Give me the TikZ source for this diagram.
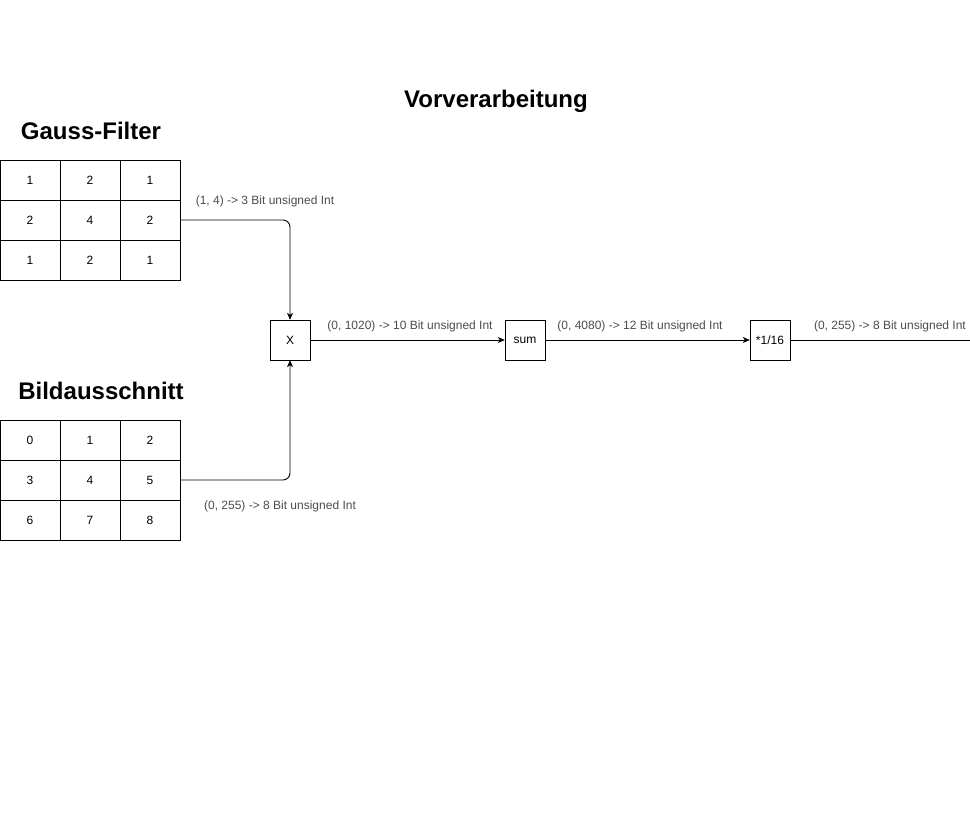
\documentclass[tikz,border=0pt]{standalone}
\usepackage{fontspec}
\setmainfont{Liberation Sans}
\usetikzlibrary{arrows.meta}

\tikzset{
	cell/.style={draw, minimum width=60pt, minimum height=40pt, inner sep=0pt, font=\fontsize{12}{14}\selectfont},
	op/.style={draw, minimum width=40pt, minimum height=40pt, inner sep=0pt, font=\fontsize{12}{14}\selectfont},
	title/.style={font=\fontsize{24}{28}\selectfont\bfseries},
	lbl/.style={text=black!70, font=\fontsize{12}{14}\selectfont, inner sep=1pt},
	wire/.style={line width=0.9pt, rounded corners=7pt},
	arr/.style={wire, -{Stealth[length=7pt,width=6pt,inset=2pt]}}
}

\begin{document}
\begin{tikzpicture}[x=1pt, y=-1pt]
	\useasboundingbox (0,0) rectangle (970,821);
	\node[title] (vor) at (496,101) {Vorverarbeitung};
	\node[title] (gtitle) at (91,131) {Gauss-Filter};
	\node[title] (btitle) at (101,391) {Bildausschnitt};
	% Gauss-Filter Kernel
	\foreach \r/\a/\b/\c in {1/1/2/1, 2/2/4/2, 3/1/2/1} {
		\node[cell] (g-\r-1) at (30, 140+40*\r) {\a};
		\node[cell] (g-\r-2) at (90, 140+40*\r) {\b};
		\node[cell] (g-\r-3) at (150, 140+40*\r) {\c};
		}
	% Bildausschnitt
	\foreach \r in {1,2,3} {
		\foreach \c in {1,2,3} {
			\pgfmathtruncatemacro{\v}{3*(\r-1)+\c-1}
			\node[cell] (b-\r-\c) at ({60*\c-30}, 400+40*\r) {\v};
			}
		}
	\node[op] (mul) at (290,340) {X};
	\node[op] (sum) at (525,340) {sum};
	\node[op] (div) at (770,340) {*1/16};
	\coordinate (out) at (970,340);
	\draw[arr] (g-2-3.east) -| (mul.north);
	\draw[arr] (b-2-3.east) -| (mul.south);
	\draw[arr] (mul) -- (sum);
	\draw[arr] (sum) -- (div);
	\draw[wire] (div) -- (out);
	\node[lbl] (l1) at (265,201) {(1, 4) -> 3 Bit unsigned Int};
	\node[lbl] (l2) at (280,506) {(0, 255) -> 8 Bit unsigned Int};
	\node[lbl] (l3) at (410,326) {(0, 1020) -> 10 Bit unsigned Int};
	\node[lbl] (l4) at (640,326) {(0, 4080) -> 12 Bit unsigned Int};
	\node[lbl, anchor=east] (l5) at (967,326) {(0, 255) -> 8 Bit unsigned Int};
\end{tikzpicture}
\end{document}
